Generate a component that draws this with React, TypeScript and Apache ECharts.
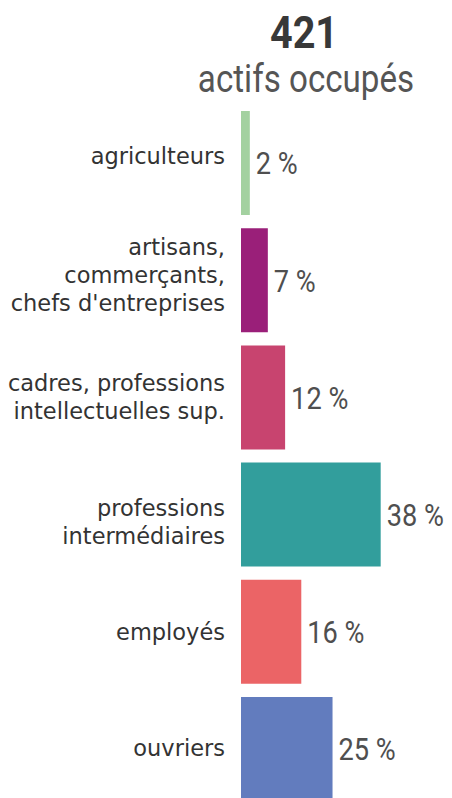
import React, { useEffect, useRef } from "react";
import * as echarts from "echarts";

const categories = [
  "agriculteurs",
  "artisans,\ncommerçants,\nchefs d'entreprises",
  "cadres, professions\nintellectuelles sup.",
  "professions\nintermédiaires",
  "employés",
  "ouvriers",
];
const shares = [2.4, 7.3, 12.0, 38.0, 16.4, 24.9];
const barColors = ["#a3d1a0", "#9a1f79", "#c8446f", "#329e9c", "#eb6466", "#627cbe"];
const labelShift = [-7, -5, 0, 7, 0, -1];
const totalText = "421";
const subtitleText = "actifs occupés";

const COND = "Roboto, 'DejaVu Sans Condensed', sans-serif";
const SANS = "'DejaVu Sans', 'Noto Sans', sans-serif";

export default function App() {
  const ref = useRef<HTMLDivElement>(null);
  useEffect(() => {
    if (!ref.current) return;
    const chart = echarts.init(ref.current, null, { renderer: "svg" });
    const rich: Record<string, any> = {};
    labelShift.forEach((s) => {
      if (s !== 0) rich["sp" + Math.abs(s)] = { lineHeight: 2 * Math.abs(s), fontSize: 1 };
    });
    chart.setOption({
      animation: false,
      backgroundColor: "#ffffff",
      graphic: [
        {
          type: "text",
          x: 304,
          y: 32.9,
          scaleX: 0.88,
          style: {
            text: totalText,
            fontFamily: COND,
            fontWeight: "bold",
            fontSize: 45,
            fill: "#383838",
            align: "center",
            verticalAlign: "middle",
          },
        },
        {
          type: "text",
          x: 306,
          y: 78.4,
          scaleX: 0.85,
          style: {
            text: subtitleText,
            fontFamily: COND,
            fontWeight: "normal",
            fontSize: 39,
            fill: "#555555",
            align: "center",
            verticalAlign: "middle",
          },
        },
      ],
      grid: { left: 241, top: 104.4, width: 183.8, height: 703.2, containLabel: false },
      xAxis: { type: "value", min: 0, max: 50, show: false },
      yAxis: {
        type: "category",
        inverse: true,
        data: categories,
        axisLine: { show: false },
        axisTick: { show: false },
        splitLine: { show: false },
        axisLabel: {
          margin: 16,
          fontFamily: SANS,
          fontSize: 22.5,
          lineHeight: 28,
          color: "#333333",
          align: "right",
          rich,
          formatter: (value: string, idx: number) => {
            const s = labelShift[idx];
            if (!s) return value;
            const tag = `{sp${Math.abs(s)}| }`;
            return s < 0 ? `${value}\n${tag}` : `${tag}\n${value}`;
          },
        },
      },
      series: [
        {
          type: "bar",
          barCategoryGap: "11.3%",
          data: shares.map((v, i) => ({ value: v, itemStyle: { color: barColors[i] } })),
        },
        {
          type: "custom",
          encode: { x: 0, y: 1 },
          data: shares.map((v, i) => [v, i]),
          z: 5,
          renderItem: (_params: any, api: any) => {
            const v = api.value(0);
            const pt = api.coord([v, api.value(1)]);
            return {
              type: "text",
              x: pt[0] + 6,
              y: pt[1],
              scaleX: 0.85,
              style: {
                text: `${Math.round(v)} %`,
                fontFamily: COND,
                fontWeight: "normal",
                fontSize: 32,
                fill: "#4f4f4f",
                align: "left",
                verticalAlign: "middle",
              },
            };
          },
        },
      ],
    });
    return () => chart.dispose();
  }, []);
  return (
    <div
      style={{
        position: "fixed",
        left: 0,
        top: 0,
        width: 452,
        height: 798,
        overflow: "hidden",
        background: "#ffffff",
      }}
    >
      <div ref={ref} style={{ width: 452, height: 812 }} />
    </div>
  );
}
